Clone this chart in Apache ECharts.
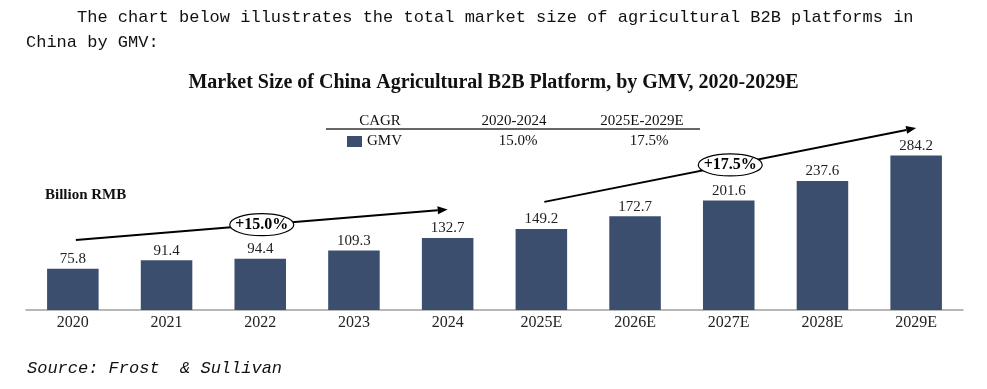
<!DOCTYPE html>
<html>
<head>
<meta charset="utf-8">
<script src="https://cdn.jsdelivr.net/npm/echarts@6/dist/echarts.min.js"></script>
<style>
  html, body { margin: 0; padding: 0; background: #fff; }
  #chart { width: 987px; height: 389px; }
</style>
</head>
<body>
<div id="chart"></div>
<script>
// data
const years = ['2020', '2021', '2022', '2023', '2024', '2025E', '2026E', '2027E', '2028E', '2029E'];
const gmv = [75.8, 91.4, 94.4, 109.3, 132.7, 149.2, 172.7, 201.6, 237.6, 284.2];
const cagrPeriods = ['2020-2024', '2025E-2029E'];
const cagrValues = ['15.0%', '17.5%'];
const cagrLabels = ['+15.0%', '+17.5%'];

const BAR = '#3b4e6e';
const SERIF = '"Liberation Serif", "Times New Roman", serif';
const MONO = '"Liberation Mono", "DejaVu Sans Mono", monospace';

// arrow annotations in data space: [category index, value]
const arrows = [
  { from: [0, 129], to: [4, 185], label: cagrLabels[0] },
  { from: [5, 199], to: [9, 335], label: cagrLabels[1] },
];

const chart = echarts.init(document.getElementById('chart'));

chart.setOption({
  animation: false,
  title: {
    text: 'Market Size of China Agricultural B2B Platform, by GMV, 2020-2029E',
    left: 'center',
    top: 67,
    textStyle: { fontFamily: SERIF, fontWeight: 'bold', fontSize: 20, color: '#111', lineHeight: 22 },
  },
  grid: { left: 26, right: 24, top: 147, bottom: 79 },
  xAxis: {
    type: 'category',
    data: years,
    axisTick: { show: false },
    axisLine: { lineStyle: { color: '#a0a0a0', width: 1.5 } },
    axisLabel: { fontFamily: SERIF, fontSize: 16, color: '#222', margin: 5 },
  },
  yAxis: {
    type: 'value',
    min: 0,
    max: 300,
    show: false,
    splitLine: { show: false },
  },
  series: [
    {
      type: 'bar',
      data: gmv,
      barWidth: '55%',
      itemStyle: { color: BAR },
      clip: false,
      label: {
        show: true,
        position: 'top',
        distance: 2,
        fontFamily: SERIF,
        fontSize: 15,
        color: '#222',
      },
    },
  ],
});

function arrowGraphics(a) {
  const p1 = chart.convertToPixel({ gridIndex: 0 }, a.from);
  const p2 = chart.convertToPixel({ gridIndex: 0 }, a.to);
  p1[0] += 3; // line starts just right of the bar centre
  const dx = p2[0] - p1[0], dy = p2[1] - p1[1];
  const len = Math.sqrt(dx * dx + dy * dy);
  const ux = dx / len, uy = dy / len;
  const head = 10, hw = 4;
  const bx = p2[0] - ux * head, by = p2[1] - uy * head;
  const mx = (p1[0] + p2[0]) / 2, my = (p1[1] + p2[1]) / 2;
  return [
    {
      type: 'line',
      shape: { x1: p1[0], y1: p1[1], x2: bx, y2: by },
      style: { stroke: '#000', lineWidth: 2 },
      z: 10,
    },
    {
      type: 'polygon',
      shape: { points: [p2, [bx - uy * hw, by + ux * hw], [bx + uy * hw, by - ux * hw]] },
      style: { fill: '#000' },
      z: 10,
    },
    {
      type: 'ellipse',
      shape: { cx: mx, cy: my, rx: 32, ry: 11 },
      style: { fill: '#fff', stroke: '#000', lineWidth: 1.2 },
      z: 11,
    },
    {
      type: 'text',
      x: mx,
      y: my,
      style: {
        text: a.label, align: 'center', verticalAlign: 'middle',
        font: 'bold 16px ' + SERIF, fill: '#000',
      },
      z: 12,
    },
  ];
}

function txt(text, x, y, font, align) {
  return {
    type: 'text', x: x, y: y,
    style: { text: text, font: font, fill: '#111', align: align || 'left', verticalAlign: 'middle' },
  };
}

const legendFont = '15px ' + SERIF;
const graphics = [
  txt('The chart below illustrates the total market size of agricultural B2B platforms in', 77, 17, '17px ' + MONO),
  txt('China by GMV:', 26, 42, '17px ' + MONO),
  txt('Source: Frost  & Sullivan', 27, 368, 'italic 17px ' + MONO),
  txt('Billion RMB', 45, 195, 'bold 15px ' + SERIF),
  // CAGR table
  txt('CAGR', 380, 121, legendFont, 'center'),
  txt(cagrPeriods[0], 514, 121, legendFont, 'center'),
  txt(cagrPeriods[1], 642, 121, legendFont, 'center'),
  {
    type: 'line',
    shape: { x1: 326, y1: 129, x2: 700, y2: 129 },
    style: { stroke: '#333', lineWidth: 1.5 },
  },
  { type: 'rect', shape: { x: 347, y: 136, width: 15, height: 11 }, style: { fill: BAR } },
  txt('GMV', 367, 141, legendFont),
  txt(cagrValues[0], 518, 141, legendFont, 'center'),
  txt(cagrValues[1], 649, 141, legendFont, 'center'),
];
arrows.forEach(function (a) { arrowGraphics(a).forEach(function (g) { graphics.push(g); }); });

chart.setOption({ graphic: graphics });
</script>
</body>
</html>
